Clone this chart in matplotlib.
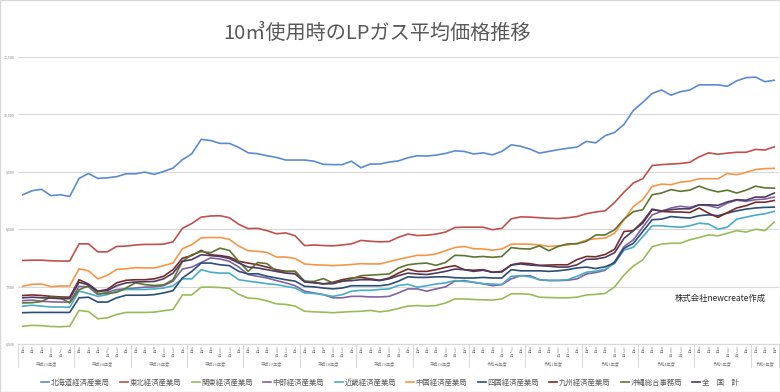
import matplotlib.pyplot as plt
from matplotlib.patches import Rectangle

plt.rcParams['font.family'] = ['Noto Sans CJK JP', 'DejaVu Sans']

# 横軸 (隔月)
months = ['4月', '6月', '8月', '10月', '12月', '2月']
years = ['平成23年度', '平成24年度', '平成25年度', '平成26年度', '平成27年度',
         '平成28年度', '平成29年度', '平成30年度', '令和元年度', '令和2年度',
         '令和3年度', '令和4年度', '令和5年度', '令和6年度']
last_year_points = 3

# 10㎥使用時の平均価格 (円)
hokkaido = [9100, 9170, 9195, 9085, 9100, 9070,
            9385, 9470, 9385, 9395, 9415, 9465,
            9465, 9495, 9455, 9505, 9565, 9710,
            9815, 10065, 10045, 9995, 9995, 9925,
            9830, 9815, 9780, 9750, 9705, 9705,
            9705, 9685, 9630, 9625, 9625, 9685,
            9570, 9635, 9635, 9670, 9690, 9745,
            9780, 9775, 9790, 9820, 9865, 9855,
            9810, 9830, 9795, 9855, 9970, 9945,
            9895, 9825, 9855, 9885, 9910, 9930,
            10030, 10005, 10130, 10185, 10325, 10570,
            10710, 10865, 10925, 10835, 10895, 10925,
            11015, 11015, 11015, 10990, 11085, 11140,
            11150, 11070, 11095]
tohoku = [7955, 7960, 7960, 7950, 7945, 7945,
          8245, 8245, 8105, 8105, 8200, 8205,
          8225, 8235, 8235, 8240, 8280, 8515,
          8600, 8710, 8730, 8735, 8700, 8585,
          8510, 8515, 8475, 8420, 8435, 8385,
          8215, 8225, 8215, 8210, 8225, 8245,
          8305, 8290, 8280, 8285, 8360, 8415,
          8390, 8395, 8415, 8450, 8530, 8535,
          8535, 8535, 8490, 8515, 8680, 8715,
          8710, 8700, 8690, 8685, 8700, 8720,
          8770, 8800, 8820, 8965, 9145, 9305,
          9380, 9610, 9625, 9635, 9645, 9665,
          9760, 9830, 9805, 9825, 9840, 9840,
          9890, 9880, 9935]
kanto = [6810, 6825, 6820, 6805, 6800, 6810,
         7085, 7065, 6940, 6955, 7015, 7050,
         7050, 7050, 7055, 7080, 7100, 7355,
         7355, 7490, 7490, 7485, 7470, 7365,
         7300, 7290, 7250, 7200, 7190, 7160,
         7070, 7060, 7055, 7045, 7055, 7065,
         7070, 7085, 7060, 7080, 7120, 7160,
         7170, 7160, 7170, 7215, 7285, 7285,
         7275, 7270, 7265, 7285, 7375, 7375,
         7365, 7315, 7310, 7305, 7305, 7315,
         7355, 7365, 7380, 7495, 7700, 7860,
         7965, 8195, 8240, 8255, 8255, 8315,
         8355, 8400, 8385, 8430, 8475, 8450,
         8500, 8475, 8625]
chubu = [7255, 7265, 7245, 7235, 7230, 7230,
         7505, 7495, 7360, 7400, 7450, 7460,
         7475, 7490, 7495, 7515, 7595, 7805,
         7840, 7920, 8000, 7980, 7940, 7840,
         7710, 7680, 7650, 7605, 7565, 7515,
         7420, 7390, 7360, 7305, 7305, 7330,
         7330, 7320, 7320, 7330, 7390, 7460,
         7460, 7420, 7460, 7495, 7595, 7605,
         7575, 7550, 7515, 7535, 7635, 7690,
         7690, 7620, 7605, 7605, 7610, 7635,
         7720, 7745, 7785, 7935, 8195, 8315,
         8535, 8750, 8810, 8870, 8900, 8880,
         8925, 8910, 8870, 8955, 9005, 8985,
         9015, 9025, 9060]
kinki = [7160, 7175, 7160, 7145, 7145, 7140,
         7420, 7380, 7330, 7360, 7420, 7450,
         7450, 7450, 7460, 7475, 7515, 7635,
         7635, 7795, 7750, 7735, 7735, 7620,
         7595, 7575, 7550, 7535, 7505, 7475,
         7390, 7380, 7360, 7330, 7360, 7420,
         7435, 7435, 7450, 7460, 7520, 7540,
         7490, 7515, 7545, 7565, 7605, 7590,
         7575, 7550, 7545, 7535, 7680, 7690,
         7670, 7620, 7610, 7610, 7620, 7680,
         7750, 7770, 7800, 7905, 8135, 8185,
         8370, 8560, 8560, 8545, 8535, 8560,
         8605, 8590, 8500, 8535, 8675, 8710,
         8745, 8770, 8810]
chugoku = [7505, 7540, 7545, 7500, 7510, 7510,
           7810, 7775, 7635, 7695, 7800, 7810,
           7830, 7825, 7825, 7865, 7910, 8160,
           8230, 8350, 8355, 8355, 8325, 8205,
           8125, 8115, 8095, 8015, 8015, 7990,
           7895, 7880, 7875, 7865, 7875, 7885,
           7900, 7895, 7895, 7935, 7975, 8010,
           8045, 8045, 8070, 8125, 8180, 8200,
           8160, 8155, 8135, 8155, 8240, 8240,
           8240, 8225, 8200, 8210, 8225, 8255,
           8310, 8335, 8345, 8430, 8665, 8895,
           9015, 9245, 9285, 9275, 9320, 9335,
           9380, 9380, 9380, 9470, 9450, 9490,
           9540, 9555, 9560]
shikoku = [7045, 7050, 7050, 7050, 7050, 7050,
           7305, 7315, 7230, 7230, 7305, 7350,
           7350, 7350, 7360, 7390, 7430, 7650,
           7765, 7910, 7910, 7880, 7865, 7765,
           7720, 7725, 7680, 7650, 7620, 7595,
           7505, 7495, 7475, 7460, 7475, 7515,
           7515, 7515, 7515, 7535, 7595, 7670,
           7660, 7660, 7670, 7670, 7655, 7650,
           7650, 7660, 7650, 7650, 7795, 7775,
           7775, 7775, 7765, 7775, 7795, 7825,
           7840, 7815, 7845, 7915, 8165, 8255,
           8460, 8665, 8675, 8720, 8705, 8695,
           8735, 8750, 8735, 8780, 8820, 8850,
           8870, 8880, 8885]
kyushu = [7345, 7355, 7345, 7330, 7320, 7315,
          7620, 7545, 7420, 7450, 7565, 7610,
          7620, 7620, 7635, 7680, 7795, 7995,
          8040, 8130, 8055, 8040, 8015, 7940,
          7910, 7880, 7840, 7795, 7765, 7765,
          7595, 7575, 7545, 7575, 7620, 7650,
          7660, 7635, 7610, 7650, 7735, 7805,
          7765, 7765, 7795, 7835, 7865, 7795,
          7785, 7795, 7750, 7765, 7880, 7910,
          7900, 7870, 7875, 7880, 7880, 7970,
          8025, 8020, 8060, 8150, 8460, 8475,
          8635, 8850, 8810, 8800, 8800, 8790,
          8870, 8780, 8705, 8790, 8870, 8910,
          8970, 8970, 9000]
okinawa = [7215, 7220, 7240, 7320, 7305, 7215,
           7445, 7515, 7380, 7380, 7400, 7475,
           7565, 7535, 7520, 7530, 7620, 7940,
           8055, 8110, 8090, 8170, 8130, 7940,
           7765, 7920, 7900, 7765, 7765, 7765,
           7590, 7590, 7640, 7565, 7590, 7635,
           7690, 7700, 7710, 7720, 7825, 7880,
           7900, 7910, 7870, 7920, 8045, 8040,
           8015, 8025, 8010, 8025, 8180, 8160,
           8155, 8210, 8125, 8200, 8245, 8245,
           8290, 8400, 8400, 8490, 8675, 8805,
           8840, 9100, 9130, 9190, 9160, 9180,
           9250, 9190, 9150, 9180, 9130, 9180,
           9250, 9220, 9215]
zenkoku = [7305, 7315, 7305, 7300, 7290, 7290,
           7575, 7530, 7415, 7430, 7515, 7565,
           7580, 7585, 7590, 7635, 7735, 7940,
           7970, 8055, 8040, 8025, 7990, 7910,
           7840, 7825, 7795, 7765, 7735, 7720,
           7580, 7565, 7550, 7550, 7595, 7605,
           7620, 7620, 7605, 7635, 7690, 7735,
           7720, 7710, 7735, 7765, 7805, 7795,
           7765, 7785, 7750, 7755, 7875, 7895,
           7875, 7865, 7855, 7840, 7840, 7880,
           7975, 7980, 8010, 8090, 8340, 8475,
           8605, 8840, 8820, 8840, 8855, 8855,
           8925, 8925, 8915, 8975, 9015, 9005,
           9060, 9060, 9130]

names = ['北海道経済産業局', '東北経済産業局', '関東経済産業局', '中部経済産業局',
         '近畿経済産業局', '中国経済産業局', '四国経済産業局', '九州経済産業局',
         '沖縄総合事務局', '全　国　計']
series = [hokkaido, tohoku, kanto, chubu, kinki, chugoku, shikoku, kyushu, okinawa, zenkoku]
colors = ['#5B8BD0', '#C0504D', '#9BBB59', '#8064A2', '#4BACC6',
          '#F79646', '#2C4D75', '#772C2A', '#5F7530', '#4D3B62']

# 横軸ラベル
tick_labels = []
for i in range(len(years)):
    n = last_year_points if i == len(years) - 1 else len(months)
    tick_labels += months[:n]
x = list(range(len(tick_labels)))

fig = plt.figure(figsize=(7.8, 3.92), dpi=100)
ax = fig.add_axes([18 / 780, 48 / 392, 761 / 780, 287 / 392])

for name, vals, col in zip(names, series, colors):
    ax.plot(x, vals, color=col, lw=1.2, label=name)

ax.set_xlim(-0.5, len(x) - 0.5)
ax.set_ylim(6500, 11500)
yt = [6500, 7500, 8500, 9500, 10500, 11500]
ax.set_yticks(yt)
ax.set_yticklabels([f'{v:,}' for v in yt])
ax.tick_params(axis='y', length=0, labelsize=2.6, labelcolor='#7F7F7F', pad=2.5)
ax.grid(axis='y', color='#D9D9D9', lw=0.8)
ax.set_axisbelow(True)
for s in ['top', 'right', 'left']:
    ax.spines[s].set_visible(False)
ax.spines['bottom'].set_color('#D9D9D9')

ax.set_xticks(x)
ax.set_xticklabels(['\n'.join(t) for t in tick_labels], linespacing=0.9)
ax.tick_params(axis='x', length=0, labelsize=2.6, labelcolor='#7F7F7F', pad=2)

# 年度の区切りとラベル
xt = ax.get_xaxis_transform()
start = 0
for i, yname in enumerate(years):
    n = last_year_points if i == len(years) - 1 else len(months)
    ax.plot([start - 0.5, start - 0.5], [0, -0.08], transform=xt, clip_on=False,
            color='#D9D9D9', lw=0.8)
    ax.text(start + (n - 1) / 2, -0.068, yname, transform=xt, ha='center', va='center',
            fontsize=3, color='#7F7F7F')
    start += n
ax.plot([start - 0.5, start - 0.5], [0, -0.08], transform=xt, clip_on=False,
        color='#D9D9D9', lw=0.8)

fig.text(377 / 780, 1 - 33 / 392, '10㎥使用時のLPガス平均価格推移', ha='center', va='center',
         fontsize=14.5, color='#595959')
fig.text(675 / 780, 1 - 298 / 392, '株式会社newcreate作成', ha='left', va='center',
         fontsize=6, color='#262626')

fig.legend(loc='center', bbox_to_anchor=(0.5, 9 / 392), ncol=10, frameon=False,
           fontsize=5.3, handlelength=1.1, handletextpad=0.2, columnspacing=1.4,
           labelcolor='#595959')

fig.patches.append(Rectangle((0, 0), 1, 1, transform=fig.transFigure, fill=False,
                             edgecolor='#D9D9D9', lw=1))

fig.savefig('out.png', dpi=100)
